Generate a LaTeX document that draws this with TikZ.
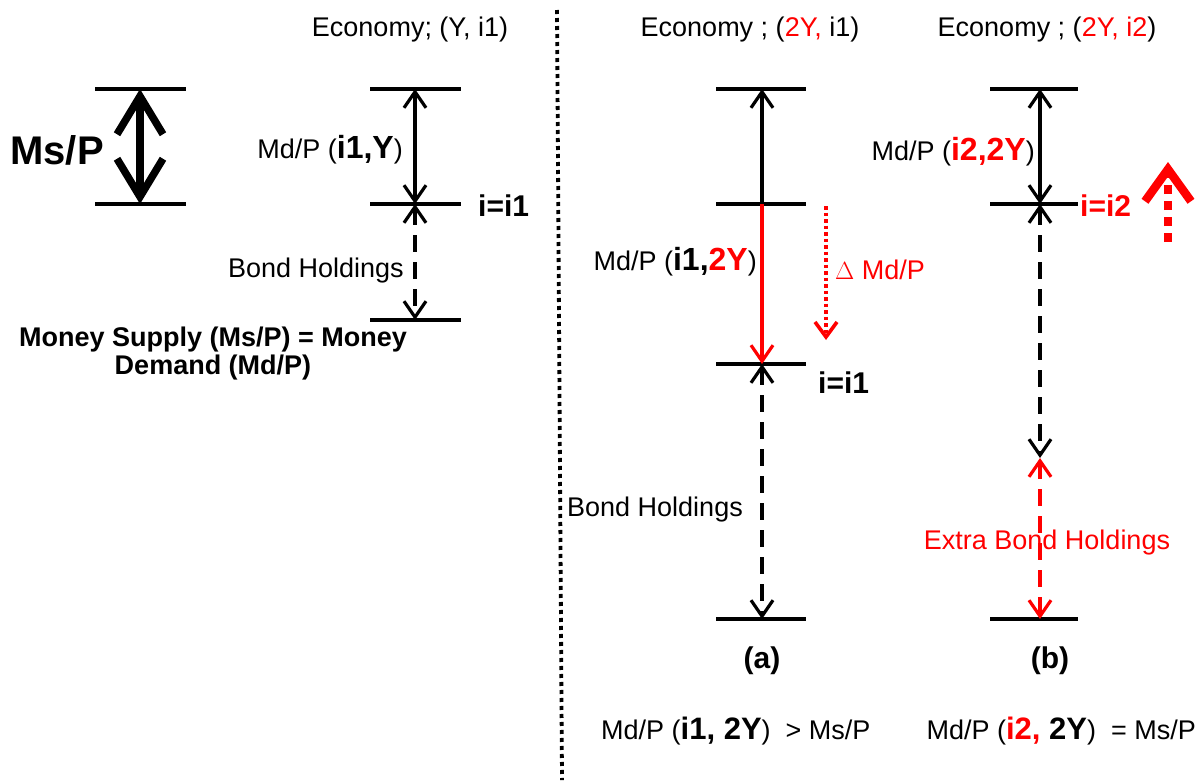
\documentclass[tikz,border=0pt]{standalone}
\usepackage{fontspec}
\setmainfont{Liberation Sans}
\usetikzlibrary{arrows.meta}
\definecolor{rd}{RGB}{255,0,0}
\tikzset{
  bar/.style={line width=4.2pt},
  arrboth/.style={line width=3.2pt,{Straight Barb[length=16pt,width=22pt]}-{Straight Barb[length=16pt,width=22pt]}},
  arrend/.style={line width=3.2pt,-{Straight Barb[length=16pt,width=22pt]}},
  dsh/.style={dash pattern=on 17pt off 10pt},
  txt/.style={inner sep=0pt,font=\fontsize{27}{32}\selectfont},
  btxt/.style={inner sep=0pt,font=\fontsize{27}{28}\selectfont\bfseries},
  lbl/.style={inner sep=0pt,font=\fontsize{30}{34}\selectfont\bfseries},
}
\newcommand{\bigb}[1]{{\fontsize{31}{34}\selectfont\bfseries #1}}
\newcommand{\midb}[1]{{\fontsize{32}{34}\selectfont\bfseries #1}}
\begin{document}
\begin{tikzpicture}[x=1pt,y=-1pt]
\useasboundingbox (0,0) rectangle (1201,782);
% divider
\coordinate (dv1) at (557,10);
\coordinate (dv2) at (562,780);
\draw[line width=3.8pt,dash pattern=on 4pt off 4pt] (dv1) -- (dv2);

% ---------- left: Ms/P ----------
\coordinate (s1l) at (95,89);  \coordinate (s1r) at (186,89);
\coordinate (s2l) at (95,204); \coordinate (s2r) at (186,204);
\draw[bar] (s1l) -- (s1r);
\draw[bar] (s2l) -- (s2r);
\coordinate (sa) at (140,89); \coordinate (sb) at (140,204);
\draw[line width=7.5pt,{Straight Barb[length=38pt,width=46pt]}-{Straight Barb[length=38pt,width=46pt]}] (sa) -- (sb);
\node[inner sep=0pt,font=\fontsize{40}{44}\selectfont\bfseries] (msp) at (57,150) {Ms/P};

% ---------- left: economy (Y,i1) ----------
\node[txt] (ec0) at (410,30) {Economy; (Y, i1)};
\coordinate (m1l) at (370,89);  \coordinate (m1r) at (461,89);
\coordinate (m2l) at (370,204); \coordinate (m2r) at (461,204);
\coordinate (m3l) at (370,320); \coordinate (m3r) at (461,320);
\draw[bar] (m1l) -- (m1r);
\draw[bar] (m2l) -- (m2r);
\draw[bar] (m3l) -- (m3r);
\coordinate (ma) at (415,89); \coordinate (mb) at (415,204); \coordinate (mc) at (415,320);
\draw[arrboth] (ma) -- (mb);
\draw[arrboth,dsh] (mb) -- (mc);
\node[txt,anchor=east] (md0) at (403,150) {Md/P (\midb{i1,Y})};
\node[lbl,anchor=west] (ii0) at (478,206) {i=i1};
\node[txt,anchor=east] (bh0) at (404,271) {Bond Holdings};
\node[btxt,align=center] (mseq) at (213,354) {Money Supply (Ms/P) = Money\\Demand (Md/P)};

% ---------- panel (a) ----------
\node[txt] (eca) at (750,30) {Economy ; (\textcolor{rd}{2Y,} i1)};
\coordinate (a1l) at (716,89);  \coordinate (a1r) at (806,89);
\coordinate (a2l) at (716,204); \coordinate (a2r) at (806,204);
\coordinate (a3l) at (716,364); \coordinate (a3r) at (806,364);
\coordinate (a4l) at (716,619); \coordinate (a4r) at (806,619);
\foreach \p in {1,2,3,4} {\draw[bar] (a\p l) -- (a\p r);}
\coordinate (aa) at (762,89); \coordinate (ab) at (762,204);
\coordinate (ac) at (762,364); \coordinate (ad) at (762,619);
\draw[arrend] (ab) -- (aa);
\draw[arrend,rd] (ab) -- (ac);
\draw[arrboth,dsh] (ac) -- (ad);
\node[txt,anchor=east] (mda) at (757,262) {Md/P (\midb{i1,\textcolor{rd}{2Y}})};
\coordinate (da1) at (826,206); \coordinate (da2) at (826,340);
\draw[rd,line width=3.6pt,dash pattern=on 3.5pt off 3pt,-{Straight Barb[length=15pt,width=22pt]}] (da1) -- (da2);
\node[txt,anchor=west,rd] (dmd) at (835,270) {$\Delta$ Md/P};
\node[lbl,anchor=west] (iia) at (818,383) {i=i1};
\node[txt,anchor=west] (bha) at (567,510) {Bond Holdings};
\node[lbl] (la) at (762,661) {(a)};
\node[txt,anchor=west] (eqa) at (601,731) {Md/P (\bigb{i1, 2Y})\ \ > Ms/P};

% ---------- panel (b) ----------
\node[txt] (ecb) at (1047,30) {Economy ; (\textcolor{rd}{2Y, i2})};
\coordinate (b1l) at (990,89);  \coordinate (b1r) at (1078,89);
\coordinate (b2l) at (990,204); \coordinate (b2r) at (1078,204);
\coordinate (b4l) at (990,619); \coordinate (b4r) at (1078,619);
\foreach \p in {1,2,4} {\draw[bar] (b\p l) -- (b\p r);}
\coordinate (ba) at (1040,89); \coordinate (bb) at (1040,204);
\coordinate (bc) at (1040,458); \coordinate (bd) at (1040,619);
\draw[arrboth] (ba) -- (bb);
\draw[arrboth,dsh] (bb) -- (bc);
\draw[arrboth,dsh,rd] (bc) -- (bd);
\node[txt,anchor=east] (mdb) at (1035,152) {Md/P (\midb{\textcolor{rd}{i2,2Y}})};
\node[lbl,anchor=west,rd] (iib) at (1080,206) {i=i2};
\coordinate (ub1) at (1168,242); \coordinate (ub2) at (1168,162);
\draw[rd,line width=8.5pt,dash pattern=on 9pt off 7pt,-{Straight Barb[length=32pt,width=46pt]}] (ub1) -- (ub2);
\node[txt,rd] (ebh) at (1047,543) {Extra Bond Holdings};
\node[lbl] (lb) at (1050,661) {(b)};
\node[txt,anchor=east] (eqb) at (1196,731) {Md/P (\bigb{\textcolor{rd}{i2,} 2Y})\ \ = Ms/P};
\end{tikzpicture}
\end{document}
